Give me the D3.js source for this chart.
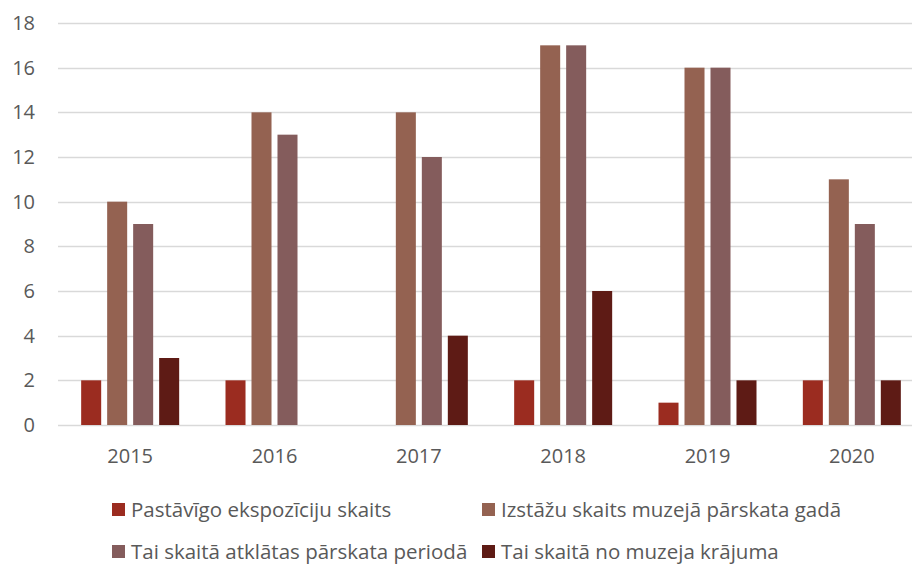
<!DOCTYPE html>
<html>
<head>
<meta charset="utf-8">
<script src="https://cdn.jsdelivr.net/npm/d3@7"></script>
<style>
  body { margin: 0; background: #fff; }
  svg { display: block; font-family: "Open Sans", Lato, sans-serif; }
</style>
</head>
<body>
<div id="chart"></div>
<script>
// dados
const years = ["2015", "2016", "2017", "2018", "2019", "2020"];
const seriesNames = [
  "Pastāvīgo ekspozīciju skaits",
  "Izstāžu skaits muzejā pārskata gadā",
  "Tai skaitā atklātas pārskata periodā",
  "Tai skaitā no muzeja krājuma"
];
const pastavigas = [2, 2, 0, 2, 1, 2];
const izstazes = [10, 14, 14, 17, 16, 11];
const atklatas = [9, 13, 12, 17, 16, 9];
const krajums = [3, 0, 4, 6, 2, 2];
const yTicks = [0, 2, 4, 6, 8, 10, 12, 14, 16, 18];
const colors = ["#9b2c20", "#946251", "#845c5c", "#5e1b15"];

const values = [pastavigas, izstazes, atklatas, krajums];

const width = 912, height = 566;
const margin = { top: 23, bottom: 141, left: 58, right: -12 };

const svg = d3.select("#chart").append("svg")
  .attr("width", width)
  .attr("height", height);

const y = d3.scaleLinear()
  .domain([0, 18])
  .range([height - margin.bottom, margin.top]);

const x0 = d3.scaleBand()
  .domain(years)
  .range([margin.left, width - margin.right]);

const groupW = 98;
const x1 = d3.scaleBand()
  .domain(seriesNames)
  .range([0, groupW])
  .paddingInner(0.23)
  .paddingOuter(0);

// linhas de grade
svg.append("g")
  .selectAll("line")
  .data(yTicks)
  .join("line")
  .attr("x1", margin.left)
  .attr("x2", width)
  .attr("y1", d => Math.round(y(d)) + 0.5)
  .attr("y2", d => Math.round(y(d)) + 0.5)
  .attr("stroke", "#d9d9d9")
  .attr("stroke-width", 1.3);

// rótulos do eixo Y
svg.append("g")
  .selectAll("text")
  .data(yTicks)
  .join("text")
  .attr("x", 35)
  .attr("y", d => y(d))
  .attr("dy", "0.35em")
  .attr("text-anchor", "end")
  .attr("fill", "#595959")
  .attr("font-size", "20px")
  .text(d => d);

// barras
years.forEach((yr, i) => {
  const gx = x0(yr) + (x0.bandwidth() - groupW) / 2;
  seriesNames.forEach((s, j) => {
    const v = values[j][i];
    if (v === 0) return;
    svg.append("rect")
      .attr("x", gx + x1(s))
      .attr("y", y(v))
      .attr("width", x1.bandwidth())
      .attr("height", y(0) - y(v))
      .attr("fill", colors[j]);
  });
});

// rótulos do eixo X
svg.append("g")
  .selectAll("text")
  .data(years)
  .join("text")
  .attr("x", d => x0(d) + x0.bandwidth() / 2)
  .attr("y", y(0) + 31)
  .attr("dy", "0.35em")
  .attr("text-anchor", "middle")
  .attr("fill", "#595959")
  .attr("font-size", "20px")
  .text(d => d);

// legenda
const legendPos = [
  { x: 112, y: 510 },
  { x: 482, y: 510 },
  { x: 112, y: 552 },
  { x: 482, y: 552 }
];
const legend = svg.append("g")
  .selectAll("g")
  .data(seriesNames)
  .join("g")
  .attr("transform", (d, i) => `translate(${legendPos[i].x},${legendPos[i].y})`);

legend.append("rect")
  .attr("x", 0)
  .attr("y", -7)
  .attr("width", 13)
  .attr("height", 13)
  .attr("fill", (d, i) => colors[i]);

legend.append("text")
  .attr("x", 19)
  .attr("y", 0)
  .attr("dy", "0.35em")
  .attr("fill", "#595959")
  .attr("font-size", "20.5px")
  .text(d => d);
</script>
</body>
</html>
